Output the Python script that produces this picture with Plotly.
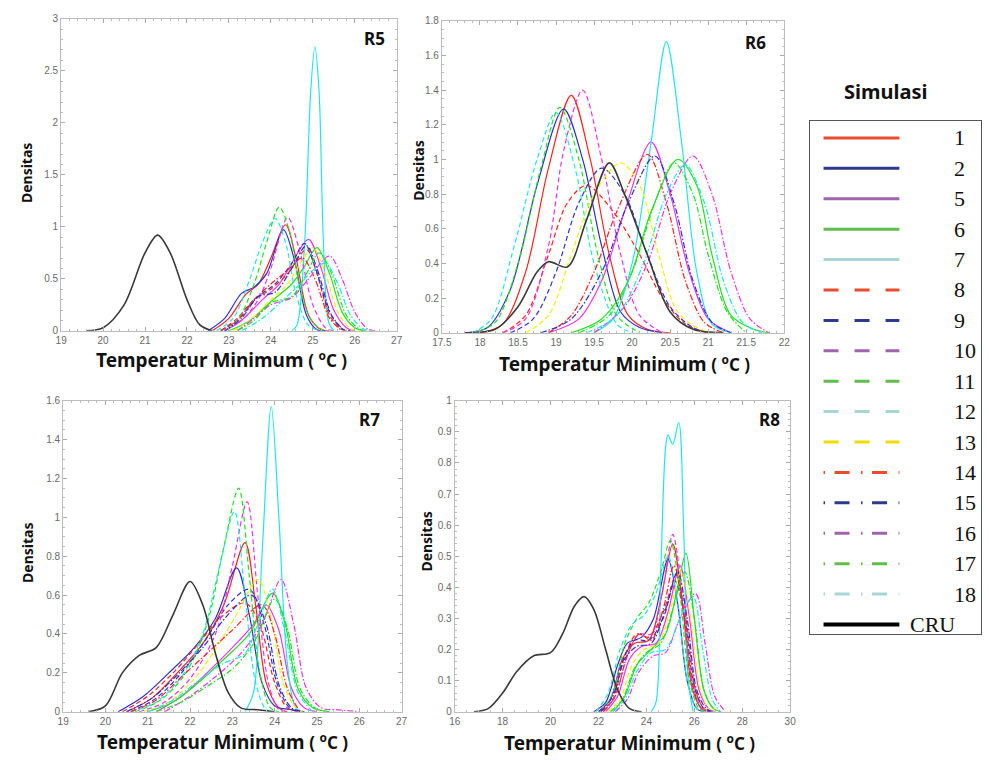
import plotly.graph_objects as go

# ---------------------------------------------------------------------------
# Series definitions (simulation runs + CRU observation)
# ---------------------------------------------------------------------------
SERIES = ["1", "2", "5", "6", "7", "8", "9", "10", "11", "12", "13",
          "14", "15", "16", "17", "18", "CRU"]

# colour family of each series inside the density panels
CURVE_COLOR = {
    "red": "#ff2020", "blue": "#2f2fd0", "magenta": "#ee33ee",
    "green": "#22e022", "cyan": "#22e6e6", "yellow": "#f2f200", "black": "#3a3a3a",
}
# colour family of each series in the key box
KEY_COLOR = {
    "red": "#ec4a2c", "blue": "#2e3a8e", "magenta": "#a064ae",
    "green": "#5ebf48", "cyan": "#a8d6d6", "yellow": "#f0dc00", "black": "#000000",
}
FAMILY = {"1": "red", "2": "blue", "5": "magenta", "6": "green", "7": "cyan",
          "8": "red", "9": "blue", "10": "magenta", "11": "green", "12": "cyan",
          "13": "yellow", "14": "red", "15": "blue", "16": "magenta",
          "17": "green", "18": "cyan", "CRU": "black"}
STYLE = {"1": "solid", "2": "solid", "5": "solid", "6": "solid", "7": "solid",
         "8": "dash", "9": "dash", "10": "dash", "11": "dash", "12": "dash",
         "13": "dash", "14": "dashdot", "15": "dashdot", "16": "dashdot",
         "17": "dashdot", "18": "dashdot", "CRU": "solid"}

# ---------------------------------------------------------------------------
# Density curves per region: series -> (temperature, density)
# ---------------------------------------------------------------------------
R5 = {
    "CRU": ([19.6, 20.0, 20.5, 21.0, 21.3, 21.6, 22.0, 22.3, 22.6],
            [0, 0.03, 0.25, 0.75, 0.92, 0.75, 0.30, 0.06, 0]),
    "1": ([22.6, 23.0, 23.4, 23.7, 24.0, 24.35, 24.6, 24.9, 25.2, 25.4],
          [0, 0.12, 0.35, 0.45, 0.70, 1.02, 0.70, 0.15, 0.01, 0]),
    "2": ([22.5, 22.9, 23.3, 23.6, 23.9, 24.3, 24.55, 24.85, 25.1, 25.3],
          [0, 0.12, 0.36, 0.42, 0.55, 0.97, 0.70, 0.15, 0.01, 0]),
    "5": ([22.9, 23.3, 23.8, 24.2, 24.5, 24.9, 25.2, 25.5, 25.8, 26.0],
          [0, 0.10, 0.30, 0.45, 0.65, 0.88, 0.60, 0.20, 0.03, 0]),
    "6": ([23.0, 23.5, 24.0, 24.5, 24.8, 25.1, 25.4, 25.7, 26.0, 26.2],
          [0, 0.10, 0.28, 0.45, 0.62, 0.80, 0.55, 0.18, 0.03, 0]),
    "7": ([24.5, 24.62, 24.8, 24.95, 25.05, 25.15, 25.25, 25.38, 25.5],
          [0, 0.05, 0.80, 2.30, 2.73, 2.30, 0.90, 0.08, 0]),
    "8": ([22.8, 23.2, 23.6, 24.0, 24.4, 24.85, 25.1, 25.4, 25.7, 25.9],
          [0, 0.12, 0.30, 0.40, 0.55, 0.78, 0.55, 0.15, 0.01, 0]),
    "9": ([22.8, 23.2, 23.7, 24.1, 24.5, 24.8, 25.05, 25.4, 25.7, 25.9],
          [0, 0.10, 0.33, 0.45, 0.65, 0.84, 0.62, 0.18, 0.02, 0]),
    "10": ([22.9, 23.3, 23.7, 24.0, 24.4, 24.7, 25.0, 25.3, 25.5],
           [0, 0.10, 0.30, 0.60, 1.09, 0.75, 0.25, 0.03, 0]),
    "11": ([22.8, 23.2, 23.6, 23.9, 24.2, 24.45, 24.7, 25.0, 25.3],
           [0, 0.10, 0.45, 0.85, 1.19, 0.95, 0.40, 0.08, 0]),
    "12": ([22.7, 23.1, 23.5, 23.8, 24.1, 24.35, 24.6, 24.9, 25.2],
           [0, 0.12, 0.50, 0.85, 1.08, 0.85, 0.35, 0.05, 0]),
    "13": ([23.1, 23.5, 24.0, 24.4, 24.75, 25.0, 25.3, 25.6, 25.9, 26.1],
           [0, 0.10, 0.30, 0.45, 0.68, 0.80, 0.55, 0.18, 0.02, 0]),
    "14": ([22.8, 23.2, 23.6, 24.0, 24.4, 24.75, 25.05, 25.4, 25.7],
           [0, 0.10, 0.30, 0.45, 0.58, 0.70, 0.50, 0.12, 0]),
    "15": ([22.9, 23.3, 23.7, 24.1, 24.5, 24.85, 25.1, 25.45, 25.75],
           [0, 0.12, 0.33, 0.37, 0.60, 0.82, 0.60, 0.15, 0]),
    "16": ([23.2, 23.6, 24.0, 24.5, 24.9, 25.4, 25.7, 26.0, 26.3, 26.5],
           [0, 0.12, 0.25, 0.32, 0.50, 0.72, 0.50, 0.18, 0.02, 0]),
    "17": ([23.2, 23.6, 24.0, 24.5, 24.85, 25.15, 25.45, 25.8, 26.1, 26.3],
           [0, 0.10, 0.27, 0.33, 0.55, 0.75, 0.55, 0.15, 0.02, 0]),
    "18": ([23.3, 23.8, 24.3, 24.7, 25.0, 25.3, 25.6, 25.9, 26.2, 26.4],
           [0, 0.12, 0.30, 0.45, 0.58, 0.65, 0.45, 0.15, 0.02, 0]),
}

R6 = {
    "CRU": ([17.8, 18.2, 18.5, 18.75, 18.9, 19.15, 19.4, 19.7, 19.9, 20.2, 20.5, 20.8, 21.2],
            [0, 0.02, 0.15, 0.35, 0.41, 0.38, 0.65, 0.98, 0.80, 0.45, 0.12, 0.02, 0]),
    "1": ([18.0, 18.3, 18.6, 18.9, 19.2, 19.45, 19.7, 19.95, 20.2, 20.5],
          [0, 0.05, 0.35, 0.95, 1.37, 1.00, 0.45, 0.10, 0.02, 0]),
    "2": ([17.8, 18.1, 18.4, 18.75, 19.1, 19.35, 19.6, 19.85, 20.1, 20.4],
          [0, 0.03, 0.25, 0.85, 1.29, 1.00, 0.50, 0.12, 0.03, 0]),
    "5": ([18.9, 19.3, 19.6, 19.9, 20.25, 20.5, 20.75, 21.0, 21.3],
          [0, 0.08, 0.30, 0.70, 1.10, 0.80, 0.35, 0.08, 0]),
    "6": ([19.2, 19.6, 19.95, 20.25, 20.6, 20.85, 21.05, 21.3, 21.6, 21.8],
          [0, 0.08, 0.30, 0.70, 1.00, 0.85, 0.45, 0.10, 0.02, 0]),
    "7": ([19.5, 19.75, 20.0, 20.25, 20.45, 20.65, 20.85, 21.05, 21.3],
          [0, 0.08, 0.40, 1.10, 1.68, 1.10, 0.35, 0.05, 0]),
    "8": ([18.3, 18.6, 18.9, 19.15, 19.4, 19.75, 20.1, 20.4, 20.7, 21.0],
          [0, 0.10, 0.45, 0.75, 0.85, 0.70, 0.45, 0.20, 0.05, 0]),
    "9": ([18.4, 18.7, 19.0, 19.3, 19.6, 19.9, 20.2, 20.5, 20.8, 21.0],
          [0, 0.08, 0.35, 0.75, 0.95, 0.80, 0.45, 0.15, 0.03, 0]),
    "10": ([18.3, 18.6, 18.9, 19.1, 19.35, 19.6, 19.85, 20.1, 20.4],
           [0, 0.08, 0.50, 1.05, 1.40, 1.00, 0.45, 0.10, 0]),
    "11": ([17.9, 18.2, 18.5, 18.8, 19.05, 19.3, 19.55, 19.8, 20.1],
           [0, 0.06, 0.40, 0.95, 1.30, 1.00, 0.45, 0.10, 0]),
    "12": ([17.9, 18.15, 18.45, 18.75, 19.0, 19.25, 19.5, 19.8, 20.0],
           [0, 0.08, 0.50, 1.00, 1.27, 0.95, 0.40, 0.05, 0]),
    "13": ([18.6, 18.9, 19.2, 19.5, 19.85, 20.1, 20.35, 20.6, 20.9, 21.1],
           [0, 0.10, 0.45, 0.80, 0.98, 0.85, 0.45, 0.12, 0.02, 0]),
    "14": ([18.9, 19.2, 19.5, 19.8, 20.2, 20.45, 20.7, 20.95, 21.2],
           [0, 0.10, 0.35, 0.70, 1.03, 0.75, 0.30, 0.06, 0]),
    "15": ([18.8, 19.2, 19.6, 19.95, 20.3, 20.55, 20.8, 21.05, 21.3],
           [0, 0.08, 0.35, 0.75, 1.02, 0.75, 0.30, 0.06, 0]),
    "16": ([19.5, 19.9, 20.2, 20.5, 20.8, 21.05, 21.3, 21.55, 21.8],
           [0, 0.15, 0.40, 0.80, 1.02, 0.80, 0.35, 0.08, 0]),
    "17": ([19.3, 19.7, 20.0, 20.3, 20.55, 20.8, 21.0, 21.25, 21.5],
           [0, 0.10, 0.35, 0.75, 0.98, 0.80, 0.45, 0.12, 0]),
    "18": ([19.4, 19.8, 20.15, 20.45, 20.7, 20.95, 21.2, 21.45, 21.7],
           [0, 0.10, 0.40, 0.80, 0.97, 0.75, 0.30, 0.06, 0]),
}

R7 = {
    "CRU": ([19.6, 20.0, 20.4, 20.8, 21.2, 21.6, 22.0, 22.3, 22.6, 22.9, 23.2, 23.6, 24.0],
            [0, 0.03, 0.20, 0.29, 0.33, 0.50, 0.67, 0.55, 0.30, 0.10, 0.02, 0.01, 0]),
    "1": ([20.5, 21.1, 21.7, 22.3, 22.8, 23.3, 23.55, 23.8, 24.1, 24.3],
          [0, 0.07, 0.20, 0.35, 0.55, 0.87, 0.55, 0.15, 0.02, 0]),
    "2": ([20.3, 20.9, 21.5, 22.1, 22.6, 23.1, 23.4, 23.7, 24.0, 24.4, 24.7],
          [0, 0.08, 0.20, 0.33, 0.48, 0.74, 0.50, 0.15, 0.03, 0.01, 0]),
    "5": ([21.2, 21.8, 22.4, 23.0, 23.5, 23.8, 24.1, 24.4, 24.7, 25.0],
          [0, 0.08, 0.20, 0.33, 0.45, 0.55, 0.42, 0.12, 0.02, 0]),
    "6": ([21.0, 21.6, 22.2, 22.8, 23.4, 23.95, 24.25, 24.55, 24.9, 25.3],
          [0, 0.05, 0.15, 0.27, 0.40, 0.61, 0.45, 0.12, 0.02, 0]),
    "7": ([23.3, 23.5, 23.7, 23.92, 24.1, 24.3, 24.5, 24.7],
          [0, 0.10, 0.80, 1.57, 1.00, 0.25, 0.02, 0]),
    "8": ([20.4, 21.0, 21.6, 22.2, 22.7, 23.3, 23.65, 24.0, 24.3, 24.6],
          [0, 0.08, 0.20, 0.35, 0.48, 0.56, 0.45, 0.15, 0.02, 0]),
    "9": ([20.6, 21.2, 21.8, 22.4, 22.9, 23.4, 23.75, 24.05, 24.35, 24.6],
          [0, 0.07, 0.20, 0.38, 0.55, 0.63, 0.45, 0.15, 0.02, 0]),
    "10": ([20.8, 21.4, 22.0, 22.6, 23.0, 23.35, 23.6, 23.85, 24.1, 24.3],
           [0, 0.05, 0.17, 0.40, 0.75, 1.08, 0.60, 0.15, 0.01, 0]),
    "11": ([20.7, 21.3, 21.9, 22.4, 22.8, 23.15, 23.4, 23.65, 23.9, 24.1],
           [0, 0.06, 0.20, 0.45, 0.85, 1.15, 0.70, 0.20, 0.02, 0]),
    "12": ([20.6, 21.2, 21.8, 22.3, 22.7, 23.05, 23.3, 23.55, 23.8, 24.0],
           [0, 0.05, 0.18, 0.40, 0.75, 1.03, 0.60, 0.15, 0.01, 0]),
    "13": ([20.9, 21.5, 22.1, 22.6, 23.1, 23.6, 23.9, 24.2, 24.5, 24.7],
           [0, 0.05, 0.17, 0.32, 0.50, 0.68, 0.50, 0.15, 0.02, 0]),
    "14": ([20.6, 21.2, 21.8, 22.4, 23.0, 23.7, 24.0, 24.3, 24.6],
           [0, 0.06, 0.18, 0.30, 0.42, 0.55, 0.40, 0.12, 0]),
    "15": ([20.5, 21.1, 21.7, 22.3, 22.9, 23.45, 23.8, 24.1, 24.4, 24.7],
           [0, 0.07, 0.19, 0.33, 0.50, 0.60, 0.45, 0.14, 0.02, 0]),
    "16": ([21.4, 22.0, 22.6, 23.2, 23.7, 24.15, 24.45, 24.75, 25.1, 25.5, 26.0],
           [0, 0.08, 0.18, 0.30, 0.45, 0.68, 0.45, 0.12, 0.02, 0.01, 0]),
    "17": ([21.2, 21.8, 22.4, 23.0, 23.5, 24.0, 24.3, 24.6, 24.95, 25.3],
           [0, 0.05, 0.13, 0.22, 0.35, 0.58, 0.43, 0.12, 0.02, 0]),
    "18": ([21.0, 21.6, 22.2, 22.8, 23.3, 23.6, 23.95, 24.25, 24.55, 24.9],
           [0, 0.06, 0.16, 0.25, 0.30, 0.45, 0.63, 0.40, 0.10, 0]),
}

R8 = {
    "CRU": ([16.8, 17.4, 18.0, 18.6, 19.3, 20.0, 20.5, 21.0, 21.4, 21.8, 22.3, 22.8, 23.3, 23.8],
            [0, 0.01, 0.06, 0.13, 0.18, 0.19, 0.25, 0.34, 0.37, 0.33, 0.20, 0.07, 0.01, 0]),
    "1": ([22.0, 22.5, 23.0, 23.5, 24.1, 24.6, 25.1, 25.5, 25.9, 26.3, 26.6],
          [0, 0.04, 0.17, 0.22, 0.23, 0.36, 0.54, 0.35, 0.08, 0.01, 0]),
    "2": ([21.8, 22.3, 22.8, 23.2, 23.8, 24.3, 24.9, 25.3, 25.7, 26.1, 26.4],
          [0, 0.03, 0.15, 0.22, 0.24, 0.30, 0.49, 0.35, 0.10, 0.01, 0]),
    "5": ([22.3, 22.8, 23.3, 23.8, 24.4, 24.9, 25.4, 25.8, 26.2, 26.6, 26.9],
          [0, 0.05, 0.17, 0.21, 0.22, 0.32, 0.47, 0.30, 0.07, 0.01, 0]),
    "6": ([22.6, 23.1, 23.6, 24.2, 24.8, 25.3, 25.65, 26.0, 26.4, 26.8, 27.1],
          [0, 0.05, 0.15, 0.20, 0.25, 0.40, 0.51, 0.30, 0.07, 0.01, 0]),
    "7": ([24.2, 24.4, 24.6, 24.8, 24.9, 25.1, 25.35, 25.55, 25.75, 25.95],
          [0, 0.03, 0.45, 0.85, 0.89, 0.86, 0.93, 0.60, 0.10, 0]),
    "8": ([22.1, 22.6, 23.1, 23.6, 24.1, 24.7, 25.25, 25.65, 26.05, 26.4, 26.7],
          [0, 0.04, 0.18, 0.25, 0.24, 0.32, 0.44, 0.30, 0.07, 0.01, 0]),
    "9": ([22.0, 22.5, 23.0, 23.5, 24.1, 24.7, 25.2, 25.6, 26.0, 26.4, 26.7],
          [0, 0.04, 0.16, 0.23, 0.23, 0.30, 0.42, 0.30, 0.08, 0.01, 0]),
    "10": ([22.2, 22.7, 23.2, 23.7, 24.2, 24.7, 25.1, 25.5, 25.9, 26.3, 26.6],
           [0, 0.05, 0.18, 0.25, 0.25, 0.40, 0.57, 0.38, 0.10, 0.01, 0]),
    "11": ([22.1, 22.6, 23.1, 23.6, 24.1, 24.6, 25.0, 25.4, 25.8, 26.2, 26.5],
           [0, 0.06, 0.22, 0.30, 0.35, 0.45, 0.55, 0.38, 0.10, 0.01, 0]),
    "12": ([21.9, 22.4, 22.9, 23.4, 23.9, 24.4, 24.9, 25.3, 25.7, 26.1, 26.4],
           [0, 0.06, 0.20, 0.28, 0.31, 0.38, 0.50, 0.35, 0.10, 0.01, 0]),
    "13": ([22.4, 22.9, 23.4, 23.9, 24.5, 25.0, 25.45, 25.85, 26.25, 26.6, 26.9],
           [0, 0.04, 0.15, 0.20, 0.22, 0.33, 0.45, 0.30, 0.07, 0.01, 0]),
    "14": ([22.2, 22.7, 23.2, 23.7, 24.2, 24.7, 25.15, 25.55, 25.95, 26.3, 26.6],
           [0, 0.05, 0.18, 0.25, 0.23, 0.33, 0.47, 0.32, 0.08, 0.01, 0]),
    "15": ([22.1, 22.6, 23.1, 23.6, 24.2, 24.8, 25.3, 25.7, 26.1, 26.5, 26.8],
           [0, 0.05, 0.17, 0.21, 0.22, 0.33, 0.45, 0.30, 0.07, 0.01, 0]),
    "16": ([22.7, 23.2, 23.7, 24.3, 24.8, 25.4, 26.05, 26.45, 26.85, 27.3],
           [0, 0.04, 0.13, 0.18, 0.19, 0.30, 0.38, 0.22, 0.05, 0]),
    "17": ([22.5, 23.0, 23.5, 24.0, 24.6, 25.1, 25.6, 26.0, 26.4, 26.8, 27.1],
           [0, 0.04, 0.14, 0.19, 0.22, 0.33, 0.45, 0.30, 0.07, 0.01, 0]),
    "18": ([22.6, 23.1, 23.6, 24.2, 24.8, 25.4, 25.95, 26.35, 26.75, 27.1],
           [0, 0.04, 0.13, 0.19, 0.20, 0.30, 0.37, 0.20, 0.04, 0]),
}

PANEL_NAMES = ["R5", "R6", "R7", "R8"]
PANEL_DATA = [R5, R6, R7, R8]
X_RANGES = [[19, 27], [17.5, 22], [19, 27], [16, 30]]
Y_RANGES = [[0, 3], [0, 1.8], [0, 1.6], [0, 1]]
X_DTICK = [1, 0.5, 1, 2]
Y_DTICK = [0.5, 0.2, 0.2, 0.1]

X_TITLE = "Temperatur Minimum <span style='font-size:17px'>( <sup>o</sup>C )</span>"
Y_TITLE = "Densitas"
KEY_TITLE = "Simulasi"

# ---------------------------------------------------------------------------
# Layout helpers (figure is 989 x 764 px, no margins)
# ---------------------------------------------------------------------------
W, H = 989, 764


def px(x, y):
    return x / W, 1 - y / H


def dom(x0, x1, y0, y1):
    return [x0 / W, x1 / W], [1 - y1 / H, 1 - y0 / H]


PANEL_BOX = [(52, 393, 13, 330), (439, 787, 15, 332),
             (54, 398, 401, 717), (452, 793, 401, 717)]
LABEL_POS = [(370, 33), (758, 37), (365, 420), (772, 420)]
YTITLE_POS = [(17, 170), (415, 167), (18, 556), (423, 544)]
XTITLE_POS = [(215, 360), (625, 364), (216, 748), (630, 749)]

CURVE_DASH = {"solid": "solid", "dash": "5px,3px", "dashdot": "6px,2px,1.5px,2px"}
KEY_DASH = {"solid": "solid", "dash": "15px,16px", "dashdot": "1.5px,9.5px,15px,11.5px"}


def note(text, pos, size, family="Noto Sans", angle=0):
    x, y = px(*pos)
    return dict(text=text, x=x, y=y, xref="paper", yref="paper", xanchor="center",
                yanchor="middle", textangle=angle, showarrow=False,
                font=dict(family=family, size=size, color="#111"))


fig = go.Figure()
layout = dict(
    width=W, height=H, margin=dict(l=0, r=0, t=0, b=0),
    paper_bgcolor="white", plot_bgcolor="white", showlegend=False,
    font=dict(family="Liberation Sans, Arial, sans-serif", color="#666"),
)
annotations = []

TICK_FONT = dict(family="Liberation Sans, Arial, sans-serif", size=10, color="#6a6a6a")

for k, (name, data) in enumerate(zip(PANEL_NAMES, PANEL_DATA), start=1):
    xa, ya = ("x" if k == 1 else f"x{k}"), ("y" if k == 1 else f"y{k}")
    for s in SERIES:
        xs, ys = data[s]
        fig.add_trace(go.Scatter(
            x=xs, y=ys, mode="lines", xaxis=xa, yaxis=ya, hoverinfo="skip",
            line=dict(color=CURVE_COLOR[FAMILY[s]], width=1.6 if s == "CRU" else 1.2,
                      dash=CURVE_DASH[STYLE[s]], shape="spline", smoothing=0.9),
        ))
    xd, yd = dom(*PANEL_BOX[k - 1])
    common = dict(showline=True, linecolor="#bdbdbd", linewidth=1, mirror="ticks",
                  ticks="inside", ticklen=4, tickcolor="#aaaaaa", tickwidth=1,
                  showgrid=False, zeroline=False, tickfont=TICK_FONT,
                  minor=dict(ticks="inside", ticklen=2, tickcolor="#bbbbbb", nticks=5))
    layout["xaxis" if k == 1 else f"xaxis{k}"] = dict(
        common, domain=xd, range=X_RANGES[k - 1], dtick=X_DTICK[k - 1], tick0=0,
        anchor=ya)
    layout["yaxis" if k == 1 else f"yaxis{k}"] = dict(
        common, domain=yd, range=Y_RANGES[k - 1], dtick=Y_DTICK[k - 1], tick0=0,
        anchor=xa)

    annotations.append(note(f"<b>{name}</b>", LABEL_POS[k - 1], 17))
    annotations.append(note(f"<b>{Y_TITLE}</b>", YTITLE_POS[k - 1], 14, angle=-90))
    annotations.append(note(f"<b>{X_TITLE}</b>", XTITLE_POS[k - 1], 19))

# ---------------------------------------------------------------------------
# Key box: its own axis pair, one row per series
# ---------------------------------------------------------------------------
ROW0, ROW_STEP = 134, 30.9
KEY_BOX = (813, 987, 117, 638)
kx, ky = dom(*KEY_BOX)
layout["xaxis5"] = dict(domain=kx, range=[0, 1], anchor="y5", showline=True, mirror=True,
                        linecolor="#555", linewidth=1.3, showticklabels=False, ticks="",
                        showgrid=False, zeroline=False)
layout["yaxis5"] = dict(domain=ky,
                        range=[(KEY_BOX[3] - ROW0) / ROW_STEP, (KEY_BOX[2] - ROW0) / ROW_STEP],
                        anchor="x5", showline=True, mirror=True, linecolor="#555",
                        linewidth=1.3, showticklabels=False, ticks="", showgrid=False,
                        zeroline=False)
for i, s in enumerate(SERIES):
    fig.add_trace(go.Scatter(
        x=[0.08, 0.523], y=[i, i], mode="lines", xaxis="x5", yaxis="y5", hoverinfo="skip",
        line=dict(color=KEY_COLOR[FAMILY[s]], width=4 if s == "CRU" else 3,
                  dash=KEY_DASH[STYLE[s]]),
    ))
    annotations.append(dict(text=s, x=0.575 if s == "CRU" else 0.828, y=i,
                            xref="x5", yref="y5", xanchor="left", yanchor="middle",
                            showarrow=False,
                            font=dict(family="Liberation Serif, Times New Roman, serif",
                                      size=22, color="#111")))

annotations.append(note(f"<b>{KEY_TITLE}</b>", (890, 87), 20))

layout["annotations"] = annotations
fig.update_layout(layout)
fig.write_html("out.html")
